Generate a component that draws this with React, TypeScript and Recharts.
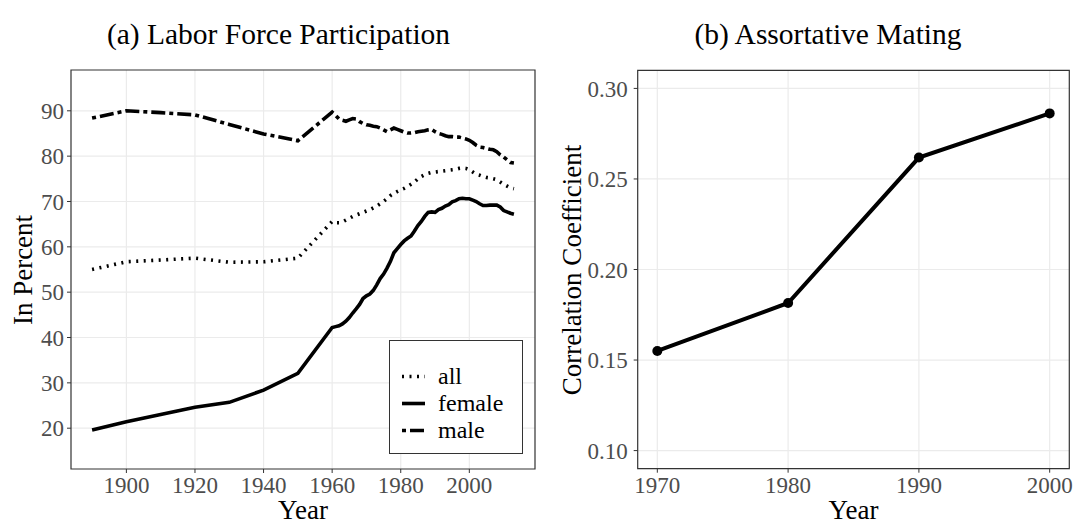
import React from 'react';
import { LineChart, Line, XAxis, YAxis, CartesianGrid, ReferenceArea, Legend } from 'recharts';

// ---------- Panel (a): Labor force participation (percent) ----------
const years = [
  1890, 1900, 1910, 1920, 1930, 1940, 1950,
  1960, 1961, 1962, 1963, 1964, 1965, 1966, 1967, 1968, 1969,
  1970, 1971, 1972, 1973, 1974, 1975, 1976, 1977, 1978, 1979,
  1980, 1981, 1982, 1983, 1984, 1985, 1986, 1987, 1988, 1989,
  1990, 1991, 1992, 1993, 1994, 1995, 1996, 1997, 1998, 1999,
  2000, 2001, 2002, 2003, 2004, 2005, 2006, 2007, 2008, 2009,
  2010, 2011, 2012, 2013,
];

const allPct = [
  55.0, 56.7, 57.1, 57.5, 56.6, 56.7, 57.5,
  65.6, 65.3, 65.3, 65.5, 65.9, 66.3, 66.7, 67.0, 67.3, 67.6,
  67.9, 68.2, 68.6, 69.0, 69.5, 70.0, 70.6, 71.3, 71.8, 72.2,
  72.6, 72.9, 73.3, 73.8, 74.3, 75.0, 75.5, 75.9, 76.2, 76.4,
  76.5, 76.6, 76.7, 76.8, 76.9, 77.0, 77.1, 77.3, 77.4, 77.3,
  77.0, 76.5, 76.0, 75.8, 75.5, 75.3, 75.2, 75.0, 74.8, 74.3,
  73.8, 73.4, 73.0, 72.8,
];

const femalePct = [
  19.6, 21.4, 23.0, 24.6, 25.7, 28.4, 32.1,
  42.2, 42.4, 42.6, 43.0, 43.6, 44.4, 45.4, 46.3, 47.3, 48.6,
  49.2, 49.6, 50.4, 51.6, 53.0, 54.0, 55.3, 56.8, 58.7, 59.6,
  60.5, 61.3, 61.9, 62.4, 63.5, 64.7, 65.6, 66.7, 67.6, 67.7,
  67.6, 68.2, 68.5, 69.0, 69.3, 69.9, 70.2, 70.6, 70.7, 70.6,
  70.6, 70.3, 70.0, 69.5, 69.1, 69.1, 69.2, 69.2, 69.2, 68.8,
  68.0, 67.7, 67.4, 67.2,
];

const malePct = [
  88.4, 90.0, 89.6, 89.1, 87.0, 84.9, 83.4,
  89.7, 89.0, 88.2, 87.9, 87.7, 88.0, 88.3, 88.2, 87.6, 87.2,
  86.9, 86.8, 86.6, 86.5, 86.2, 85.8, 85.4, 85.8, 86.2, 85.9,
  85.6, 85.3, 85.1, 85.1, 85.2, 85.4, 85.5, 85.6, 85.8, 85.9,
  85.4, 85.0, 84.8, 84.5, 84.3, 84.3, 84.2, 84.2, 84.0, 83.8,
  83.5, 83.0, 82.4, 82.0, 81.9, 81.7, 81.5, 81.4, 81.0, 80.3,
  79.8, 79.2, 78.6, 78.5,
];

const lfpTicksX = [1900, 1920, 1940, 1960, 1980, 2000];
const lfpTicksY = [20, 30, 40, 50, 60, 70, 80, 90];

// ---------- Panel (b): Assortative mating ----------
const matingYears = [1970, 1980, 1990, 2000];
const matingCorr = [0.155, 0.1815, 0.2618, 0.2862];
const matingTicksY = [0.1, 0.15, 0.2, 0.25, 0.3];

const lfpData = years.map((y, i) => ({ year: y, all: allPct[i], female: femalePct[i], male: malePct[i] }));
const matingData = matingYears.map((y, i) => ({ year: y, corr: matingCorr[i] }));

const FONT = '"Liberation Serif", "DejaVu Serif", serif';
const TICK_COLOR = '#4d4d4d';
const GRID = '#ebebeb';
const BORDER = '#333333';
const LW = 3.6;
const DASH_ALL = '2 5.5';
const DASH_MALE = '4 4 14 4';

const seriesDefs = [
  { key: 'all', label: 'all', dash: DASH_ALL },
  { key: 'female', label: 'female', dash: undefined as string | undefined },
  { key: 'male', label: 'male', dash: DASH_MALE },
];

const tickStyle = { fill: TICK_COLOR, fontSize: 23, fontFamily: FONT };

function LfpLegend() {
  return (
    <div style={{ width: 134, height: 114, border: '1px solid #333', background: '#fff', boxSizing: 'border-box' }}>
      <svg width={132} height={112}>
        {seriesDefs.map((s, i) => {
          const y = 35.5 + i * 27;
          return (
            <g key={s.key}>
              <line x1={12} x2={35} y1={y} y2={y} stroke="#000" strokeWidth={LW} strokeDasharray={s.dash} />
              <text x={48} y={y + 7.5} fontFamily={FONT} fontSize={24} fill="#000">{s.label}</text>
            </g>
          );
        })}
      </svg>
    </div>
  );
}

const abs = (left: number, top: number, extra: React.CSSProperties = {}): React.CSSProperties => ({
  position: 'absolute', left, top, fontFamily: FONT, color: '#000', whiteSpace: 'nowrap', lineHeight: 1, ...extra,
});

export default function App() {
  return (
    <div style={{ position: 'relative', width: 1089, height: 525, margin: '-8px 0 0 -8px', background: '#fff' }}>
      {/* Panel titles */}
      <div style={abs(278.5, 35, { transform: 'translate(-50%, -50%)', fontSize: 29.5 })}>(a) Labor Force Participation</div>
      <div style={abs(828, 35, { transform: 'translate(-50%, -50%)', fontSize: 29.5 })}>(b) Assortative Mating</div>

      {/* Axis titles */}
      <div style={abs(303, 510, { transform: 'translate(-50%, -50%)', fontSize: 27 })}>Year</div>
      <div style={abs(853.5, 510, { transform: 'translate(-50%, -50%)', fontSize: 27 })}>Year</div>
      <div style={abs(23, 269.5, { transform: 'translate(-50%, -50%) rotate(-90deg)', fontSize: 27 })}>In Percent</div>
      <div style={abs(572, 269.5, { transform: 'translate(-50%, -50%) rotate(-90deg)', fontSize: 27 })}>Correlation Coefficient</div>

      {/* Panel (a) */}
      <div style={{ position: 'absolute', left: 0, top: 0 }}>
        <LineChart width={545} height={525} data={lfpData} margin={{ top: 70, right: 10, bottom: 0, left: 31 }}>
          <CartesianGrid stroke={GRID} strokeWidth={1.2} horizontalValues={lfpTicksY} verticalValues={lfpTicksX} />
          <XAxis
            dataKey="year" type="number" domain={[1883.85, 2019.15]} ticks={lfpTicksX} allowDataOverflow
            height={56} tickSize={4} tickMargin={4} tick={tickStyle} axisLine={false}
            tickLine={{ stroke: BORDER }}
          />
          <YAxis
            type="number" domain={[11, 99]} ticks={lfpTicksY} allowDataOverflow width={40}
            tickSize={4} tickMargin={3} tick={tickStyle} axisLine={false} tickLine={{ stroke: BORDER }}
          />
          <ReferenceArea x1={1883.85} x2={2019.15} y1={11} y2={99} fill="none" stroke={BORDER} strokeWidth={1.2} />
          {seriesDefs.map((s) => (
            <Line
              key={s.key} dataKey={s.key} name={s.label} type="linear" stroke="#000" strokeWidth={LW}
              strokeDasharray={s.dash} dot={false} activeDot={false} isAnimationActive={false}
            />
          ))}
          <Legend
            layout="vertical" align="center" verticalAlign="middle"
            content={() => <LfpLegend />}
            wrapperStyle={{ left: 389, top: 340, width: 134, height: 114 }}
          />
        </LineChart>
      </div>

      {/* Panel (b) */}
      <div style={{ position: 'absolute', left: 545, top: 0 }}>
        <LineChart width={544} height={525} data={matingData} margin={{ top: 70.3, right: 19.7, bottom: 0, left: 42.7 }}>
          <CartesianGrid stroke={GRID} strokeWidth={1.2} horizontalValues={matingTicksY} verticalValues={matingYears} />
          <XAxis
            dataKey="year" type="number" domain={[1968.5, 2001.5]} ticks={matingYears} allowDataOverflow
            height={56.3} tickSize={4} tickMargin={4} tick={tickStyle} axisLine={false}
            tickLine={{ stroke: BORDER }}
          />
          <YAxis
            type="number" domain={[0.09, 0.31]} ticks={matingTicksY} allowDataOverflow width={50}
            tickSize={4} tickMargin={6} tick={tickStyle} axisLine={false} tickLine={{ stroke: BORDER }}
            tickFormatter={(v: number) => v.toFixed(2)}
          />
          <ReferenceArea x1={1968.5} x2={2001.5} y1={0.09} y2={0.31} fill="none" stroke={BORDER} strokeWidth={1.2} />
          <Line
            dataKey="corr" type="linear" stroke="#000" strokeWidth={4}
            dot={{ r: 5, fill: '#000', stroke: '#000', strokeWidth: 0 }} activeDot={false} isAnimationActive={false}
          />
        </LineChart>
      </div>
    </div>
  );
}
